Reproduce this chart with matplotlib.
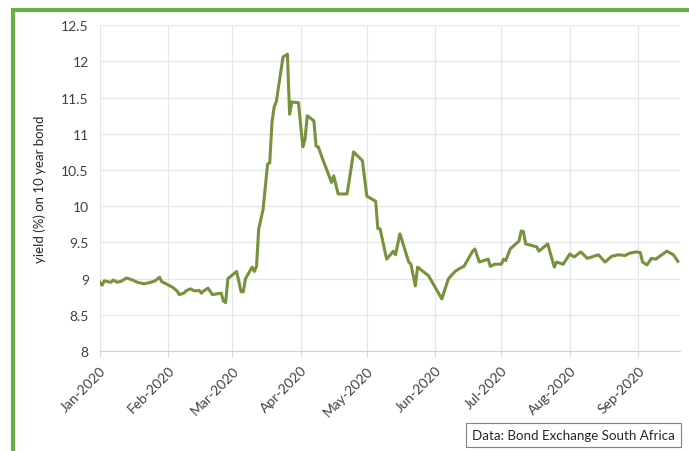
import matplotlib.pyplot as plt
import matplotlib.dates as mdates
from matplotlib.patches import Rectangle
from matplotlib.ticker import FuncFormatter
import pandas as pd

# values
dates = [
    "2020-01-01", "2020-01-02", "2020-01-03", "2020-01-06", "2020-01-07", "2020-01-09",
    "2020-01-11", "2020-01-13", "2020-01-16", "2020-01-18", "2020-01-21", "2020-01-24",
    "2020-01-26", "2020-01-28", "2020-01-29", "2020-01-31", "2020-02-03", "2020-02-05",
    "2020-02-06", "2020-02-08", "2020-02-09", "2020-02-11", "2020-02-13", "2020-02-15",
    "2020-02-16", "2020-02-17", "2020-02-19", "2020-02-21", "2020-02-23", "2020-02-25",
    "2020-02-26", "2020-02-27", "2020-02-28", "2020-03-01", "2020-03-03", "2020-03-05",
    "2020-03-06", "2020-03-07", "2020-03-10", "2020-03-11", "2020-03-12", "2020-03-13",
    "2020-03-15", "2020-03-17", "2020-03-18", "2020-03-19", "2020-03-20", "2020-03-21",
    "2020-03-24", "2020-03-26", "2020-03-27", "2020-03-28", "2020-03-31", "2020-04-02",
    "2020-04-03", "2020-04-04", "2020-04-07", "2020-04-08", "2020-04-09", "2020-04-11",
    "2020-04-15", "2020-04-16", "2020-04-18", "2020-04-22", "2020-04-23", "2020-04-25",
    "2020-04-29", "2020-05-01", "2020-05-05", "2020-05-06", "2020-05-07", "2020-05-10",
    "2020-05-13", "2020-05-14", "2020-05-16", "2020-05-20", "2020-05-21", "2020-05-23",
    "2020-05-24", "2020-05-29", "2020-06-04", "2020-06-07", "2020-06-10", "2020-06-12",
    "2020-06-14", "2020-06-18", "2020-06-19", "2020-06-21", "2020-06-25", "2020-06-26",
    "2020-06-28", "2020-07-01", "2020-07-02", "2020-07-03", "2020-07-05", "2020-07-09",
    "2020-07-10", "2020-07-11", "2020-07-12", "2020-07-17", "2020-07-18", "2020-07-22",
    "2020-07-25", "2020-07-26", "2020-07-29", "2020-08-01", "2020-08-03", "2020-08-06",
    "2020-08-09", "2020-08-14", "2020-08-17", "2020-08-20", "2020-08-23", "2020-08-26",
    "2020-08-28", "2020-08-31", "2020-09-02", "2020-09-03", "2020-09-05", "2020-09-07",
    "2020-09-09", "2020-09-14", "2020-09-17", "2020-09-19",
]
yields = [
    8.95, 8.91, 8.97, 8.95, 8.98, 8.95,
    8.97, 9.01, 8.98, 8.95, 8.93, 8.95,
    8.97, 9.02, 8.96, 8.93, 8.88, 8.83,
    8.78, 8.80, 8.83, 8.86, 8.83, 8.84,
    8.80, 8.83, 8.87, 8.78, 8.79, 8.80,
    8.69, 8.67, 9.00, 9.05, 9.10, 8.82,
    8.82, 9.00, 9.16, 9.10, 9.17, 9.69,
    9.96, 10.58, 10.60, 11.16, 11.37, 11.45,
    12.06, 12.10, 11.27, 11.44, 11.43, 10.82,
    10.93, 11.25, 11.18, 10.83, 10.82, 10.65,
    10.33, 10.42, 10.17, 10.17, 10.35, 10.75,
    10.63, 10.14, 10.07, 9.69, 9.69, 9.27,
    9.38, 9.33, 9.62, 9.23, 9.20, 8.90,
    9.16, 9.04, 8.72, 9.00, 9.10, 9.14,
    9.17, 9.38, 9.41, 9.23, 9.27, 9.17,
    9.20, 9.20, 9.27, 9.25, 9.41, 9.52,
    9.66, 9.65, 9.48, 9.44, 9.38, 9.48,
    9.16, 9.23, 9.20, 9.34, 9.30, 9.37,
    9.28, 9.33, 9.23, 9.31, 9.33, 9.32,
    9.35, 9.37, 9.36, 9.23, 9.19, 9.28,
    9.27, 9.38, 9.33, 9.24,
]

plt.rcParams['font.family'] = ['Lato', 'DejaVu Sans']

fig = plt.figure(figsize=(6.89, 4.52), dpi=100)
ax = fig.add_axes([0.145, 0.221, 0.842, 0.721])

x = pd.to_datetime(dates)
ax.plot(x, yields, color='#76923C', linewidth=2.2)

ax.set_ylim(8, 12.5)
ax.set_yticks([8 + 0.5 * i for i in range(10)])
ax.yaxis.set_major_formatter(FuncFormatter(lambda v, p: f"{v:g}"))
ax.set_xlim(pd.Timestamp("2020-01-01"), pd.Timestamp("2020-09-20"))
ax.xaxis.set_major_locator(mdates.MonthLocator())
ax.xaxis.set_major_formatter(mdates.DateFormatter("%b-%Y"))
plt.setp(ax.get_xticklabels(), rotation=45, ha='right', rotation_mode='anchor')

ax.grid(True, color='#e6e6e6', linewidth=0.9)
ax.set_axisbelow(True)
for s in ['top', 'right', 'left']:
    ax.spines[s].set_visible(False)
ax.spines['bottom'].set_color('#d0d0d0')
ax.tick_params(axis='y', length=0, labelsize=10, colors='#404040', pad=8)
ax.tick_params(axis='x', length=4, color='#d9d9d9', labelsize=10, colors='#404040', pad=5)

ax.set_ylabel("yield (%) on 10 year bond", fontsize=9.5, color='#262626', labelpad=11)

# green frame around the figure
fig.patches.append(Rectangle((13 / 689, -0.1), 1.2, 1.1 - 11 / 452, transform=fig.transFigure,
                             fill=False, edgecolor='#6BB044', linewidth=3))

fig.text(472 / 689, 1 - 436 / 452, "Data: Bond Exchange South Africa", fontsize=9.6,
         color='#262626', va='center', ha='left',
         bbox=dict(boxstyle='square,pad=0.45', facecolor='white', edgecolor='#7f7f7f', linewidth=0.8))

fig.savefig("out.png", dpi=100)
